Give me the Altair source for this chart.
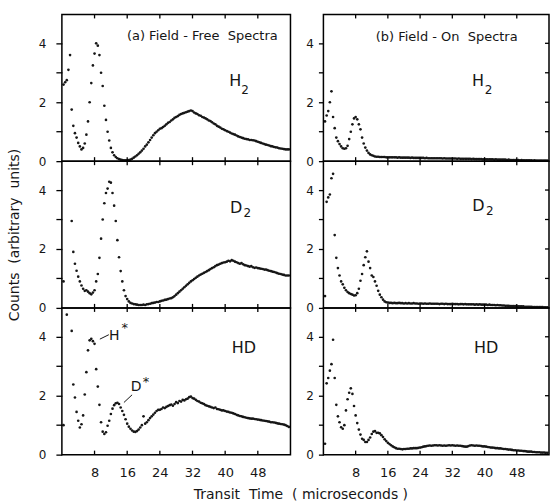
import altair as alt
import pandas as pd

# ---------------- data ----------------
CHANNEL_US = 0.4
N_CHANNELS = 139
transit_us = [round(CHANNEL_US * (i + 1), 1) for i in range(N_CHANNELS)]

# (a) field-free spectra
ff_h2 = [2.6, 2.68, 2.75, 3.1, 3.6, 1.75, 1.2, 0.95, 0.8, 0.62,
         0.5, 0.4, 0.45, 0.6, 0.9, 1.35, 2.0, 2.65, 3.25, 3.65,
         4.0, 3.92, 3.6, 3.0, 2.55, 1.88, 1.4, 1.0, 0.7, 0.45,
         0.3, 0.2, 0.14, 0.1, 0.07, 0.05, 0.04, 0.03, 0.03, 0.03,
         0.04, 0.05, 0.08, 0.12, 0.16, 0.2, 0.25, 0.3, 0.36, 0.42,
         0.5, 0.56, 0.64, 0.72, 0.8, 0.88, 0.95, 1.0, 1.05, 1.1,
         1.12, 1.16, 1.2, 1.25, 1.3, 1.33, 1.38, 1.42, 1.47, 1.5,
         1.53, 1.57, 1.6, 1.62, 1.64, 1.66, 1.68, 1.7, 1.72, 1.7,
         1.65, 1.62, 1.6, 1.56, 1.54, 1.5, 1.48, 1.45, 1.42, 1.38,
         1.36, 1.32, 1.28, 1.25, 1.2, 1.17, 1.14, 1.1, 1.08, 1.05,
         1.02, 1.0, 0.97, 0.94, 0.92, 0.9, 0.87, 0.84, 0.82, 0.8,
         0.78, 0.76, 0.75, 0.74, 0.72, 0.72, 0.71, 0.7, 0.68, 0.66,
         0.64, 0.62, 0.6, 0.58, 0.56, 0.55, 0.53, 0.51, 0.5, 0.48,
         0.47, 0.46, 0.44, 0.43, 0.42, 0.41, 0.4, 0.4, 0.4]

ff_d2 = [0.9, None, None, None, None, 2.95, 1.9, 1.5, 1.26, 1.06,
         0.9, 0.76, 0.65, 0.58, 0.6, 0.55, 0.5, 0.46, 0.52, 0.6,
         0.9, 1.15, 1.7, 2.35, 3.0, 3.55, 3.9, 4.05, 4.28, 4.25,
         3.9, 3.47, 2.95, 2.3, 1.72, 1.25, 0.9, 0.6, 0.4, 0.3,
         0.22, 0.17, 0.15, 0.13, 0.12, 0.11, 0.1, 0.1, 0.1, 0.11,
         0.1, 0.12, 0.13, 0.14, 0.16, 0.17, 0.18, 0.2, 0.2, 0.22,
         0.24, 0.25, 0.27, 0.28, 0.3, 0.32, 0.33, 0.36, 0.4, 0.45,
         0.5, 0.55, 0.6, 0.65, 0.7, 0.75, 0.8, 0.85, 0.9, 0.94,
         0.98, 1.02, 1.06, 1.1, 1.13, 1.16, 1.19, 1.22, 1.25, 1.28,
         1.32, 1.35, 1.38, 1.42, 1.45, 1.47, 1.5, 1.52, 1.54, 1.55,
         1.57, 1.6, 1.58, 1.62, 1.6, 1.57, 1.55, 1.52, 1.5, 1.52,
         1.48, 1.45, 1.44, 1.42, 1.4, 1.42, 1.38, 1.36, 1.37, 1.35,
         1.34, 1.33, 1.32, 1.3, 1.3, 1.28, 1.26, 1.25, 1.23, 1.22,
         1.2, 1.18, 1.16, 1.15, 1.13, 1.12, 1.1, 1.1, 1.1]

ff_hd = [1.0, None, 4.75, None, None, 4.2, 2.38, 1.94, 1.45, 1.15,
         0.92, 1.03, 1.33, 2.04, 2.8, 3.54, 3.88, 3.93, 3.85, 3.76,
         2.9, 2.31, 1.69, 1.1, 0.78, 0.7, 0.76, 0.98, 1.15, 1.38,
         1.56, 1.68, 1.74, 1.76, 1.72, 1.6, 1.48, 1.35, 1.2, 1.05,
         0.95, 0.88, 0.82, 0.78, 0.77, 0.8, 0.85, 0.92, 1.0, 1.3,
         1.05, 1.1, 1.17, 1.24, 1.3, 1.36, 1.42, 1.48, 1.52, 1.52,
         1.55, 1.6, 1.58, 1.62, 1.65, 1.68, 1.7, 1.66, 1.72, 1.78,
         1.75, 1.82, 1.8, 1.86, 1.84, 1.88, 1.9, 1.95, 1.97, 1.92,
         1.9, 1.86, 1.82, 1.8, 1.76, 1.74, 1.72, 1.68, 1.66, 1.64,
         1.62, 1.6, 1.58, 1.6, 1.55, 1.54, 1.52, 1.5, 1.5, 1.48,
         1.46, 1.45, 1.43, 1.42, 1.4, 1.38, 1.35, 1.33, 1.31, 1.3,
         1.28, 1.27, 1.25, 1.24, 1.23, 1.22, 1.22, 1.21, 1.2, 1.19,
         1.18, 1.17, 1.16, 1.15, 1.14, 1.13, 1.12, 1.1, 1.1, 1.09,
         1.08, 1.06, 1.05, 1.04, 1.03, 1.02, 1.0, 0.97, 0.94]

# (b) field-on spectra
fo_h2 = [1.35, 1.55, 1.7, 2.0, 2.37, 1.5, 1.12, 0.8, 0.68, 0.58,
         0.5, 0.44, 0.42, 0.44, 0.52, 0.75, 1.0, 1.25, 1.45, 1.5,
         1.42, 1.25, 1.08, 0.8, 0.6, 0.46, 0.36, 0.28, 0.23, 0.2,
         0.18, 0.16, 0.15, 0.15, 0.14, 0.14, 0.14, 0.14, 0.13, 0.13,
         0.13, 0.13, 0.13, 0.13, 0.13, 0.12, 0.13, 0.12, 0.12, 0.12,
         0.12, 0.12, 0.12, 0.11, 0.12, 0.11, 0.11, 0.11, 0.11, 0.11,
         0.11, 0.11, 0.1, 0.11, 0.1, 0.1, 0.1, 0.1, 0.1, 0.1,
         0.1, 0.1, 0.1, 0.09, 0.1, 0.09, 0.09, 0.09, 0.09, 0.09,
         0.09, 0.09, 0.08, 0.09, 0.08, 0.08, 0.08, 0.08, 0.08, 0.08,
         0.08, 0.07, 0.08, 0.07, 0.07, 0.07, 0.07, 0.07, 0.06, 0.07,
         0.06, 0.06, 0.06, 0.06, 0.06, 0.05, 0.06, 0.05, 0.05, 0.05,
         0.05, 0.05, 0.05, 0.04, 0.05, 0.04, 0.04, 0.04, 0.04, 0.04,
         0.04, 0.03, 0.04, 0.03, 0.03, 0.03, 0.03, 0.03, 0.03, 0.02,
         0.03, 0.02, 0.02, 0.02, 0.02, 0.02, 0.02, 0.02, 0.02]

fo_d2 = [0.4, 3.6, 3.75, 3.85, 4.4, 4.55, 2.47, 1.7, 1.35, 1.1,
         0.9, 0.8, 0.68, 0.6, 0.54, 0.5, 0.47, 0.45, 0.42, 0.43,
         0.5, 0.65, 0.92, 1.15, 1.45, 1.72, 1.92, 1.57, 1.35, 1.1,
         1.05, 0.9, 0.75, 0.58, 0.45, 0.36, 0.28, 0.22, 0.19, 0.18,
         0.17, 0.17, 0.16, 0.17, 0.16, 0.16, 0.17, 0.16, 0.16, 0.15,
         0.16, 0.15, 0.16, 0.15, 0.15, 0.16, 0.15, 0.15, 0.14, 0.15,
         0.15, 0.14, 0.15, 0.14, 0.14, 0.15, 0.14, 0.14, 0.14, 0.14,
         0.14, 0.13, 0.14, 0.14, 0.13, 0.14, 0.13, 0.13, 0.13, 0.14,
         0.13, 0.13, 0.13, 0.12, 0.13, 0.13, 0.12, 0.13, 0.12, 0.12,
         0.12, 0.12, 0.12, 0.11, 0.12, 0.11, 0.12, 0.11, 0.11, 0.11,
         0.11, 0.1, 0.11, 0.1, 0.1, 0.1, 0.09, 0.1, 0.09, 0.09,
         0.08, 0.08, 0.07, 0.07, 0.07, 0.06, 0.06, 0.06, 0.06, 0.05,
         0.05, 0.05, 0.05, 0.05, 0.04, 0.04, 0.04, 0.04, 0.04, 0.03,
         0.03, 0.03, 0.03, 0.03, 0.03, 0.03, 0.02, 0.02, 0.02]

fo_hd = [0.37, 2.42, 2.6, 2.85, 3.07, 3.9, 2.6, 1.69, 1.3, 1.1,
         0.93, 0.88, 1.0, 1.5, 1.88, 2.1, 2.25, 2.06, 1.65, 1.33,
         1.07, 0.85, 0.68, 0.54, 0.5, 0.43, 0.43, 0.5, 0.58, 0.7,
         0.78, 0.8, 0.74, 0.74, 0.72, 0.66, 0.6, 0.52, 0.46, 0.4,
         0.36, 0.32, 0.28, 0.25, 0.22, 0.2, 0.2, 0.19, 0.18, 0.19,
         0.19, 0.2, 0.2, 0.21, 0.21, 0.22, 0.22, 0.22, 0.23, 0.24,
         0.25, 0.27, 0.28, 0.29, 0.3, 0.31, 0.3, 0.31, 0.32, 0.32,
         0.31, 0.32, 0.31, 0.3, 0.31, 0.3, 0.31, 0.32, 0.31, 0.32,
         0.31, 0.3, 0.31, 0.3, 0.3, 0.29, 0.28, 0.27, 0.27, 0.29,
         0.31, 0.32, 0.31, 0.3, 0.31, 0.3, 0.3, 0.29, 0.28, 0.28,
         0.27, 0.26, 0.25, 0.24, 0.24, 0.23, 0.22, 0.22, 0.21, 0.21,
         0.2, 0.19, 0.19, 0.18, 0.17, 0.17, 0.16, 0.15, 0.15, 0.14,
         0.14, 0.13, 0.13, 0.12, 0.12, 0.11, 0.1, 0.1, 0.1, 0.09,
         0.09, 0.08, 0.08, 0.08, 0.07, 0.07, 0.07, 0.06, 0.06]

X_TICKS = [8, 16, 24, 32, 40, 48]
Y_TICKS = [0, 1, 2, 3, 4]
RIGHT_Y_TICKS = [1, 2, 3, 4]

NB = "\u00a0"
# panel texts: (text, x, y, font size)
texts = {
    "ff_h2": [(f"(a){NB}Field{NB}-{NB}Free{NB}{NB}Spectra", 34.4, 4.24, 13),
              ("H", 42.5, 2.73, 16), ("2", 44.9, 2.42, 12)],
    "ff_d2": [("D", 42.7, 3.39, 16), ("2", 45.4, 3.22, 12)],
    "ff_hd": [("HD", 44.6, 3.61, 16),
              ("H", 12.8, 4.03, 14), ("*", 15.4, 4.3, 13),
              ("D", 18.2, 2.28, 14), ("*", 20.6, 2.47, 13)],
    "fo_h2": [(f"(b){NB}Field{NB}-{NB}On{NB}{NB}Spectra", 30.6, 4.2, 13),
              ("H", 38.4, 2.73, 16), ("2", 41.0, 2.42, 12)],
    "fo_d2": [("D", 38.5, 3.47, 16), ("2", 41.3, 3.29, 12)],
    "fo_hd": [("HD", 40.4, 3.61, 16)],
}
# leader lines for H* and D* (x, y, x2, y2)
leaders = {"x": [9.3, 15.2], "y": [3.92, 1.77], "x2": [11.5, 17.2], "y2": [4.07, 2.03]}

# ---------------- layout ----------------
W_L, W_R, H = 229, 226, 147
XDOM = [0, 56]
YDOM = [0, 4.98]
INK = "#161616"
FONT = "DejaVu Sans"


def panel(key, yvals, width, left_col, bottom, ytitle=None, xtitle=None):
    xs = alt.Scale(domain=XDOM, nice=False, zero=False)
    ys = alt.Scale(domain=YDOM, nice=False, zero=False)
    if bottom:
        xargs = dict(values=X_TICKS, ticks=False, domain=False, grid=False,
                     labelFontSize=13, labelPadding=12, labelFlush=False)
        if xtitle:
            xargs.update(title=xtitle, titleX=239, titleY=40, titleAlign="center",
                         titleBaseline="middle", titleFontSize=14,
                         titleFontWeight="normal")
        else:
            xargs.update(title=None)
        xaxis = alt.Axis(**xargs)
    else:
        xaxis = None
    yargs = dict(values=Y_TICKS, labelExpr="datum.value % 2 == 0 ? datum.label : ''",
                 tickSize=6 if left_col else 5, labelPadding=10 if left_col else 5,
                 domain=False, grid=False, labelFontSize=12, labelOverlap=False,
                 labelFlush=False)
    if ytitle:
        yargs.update(title=ytitle, titleX=-47, titleY=H / 2, titleAngle=270,
                     titleAlign="center", titleBaseline="middle", titleFontSize=14,
                     titleFontWeight="normal")
    else:
        yargs.update(title=None)
    yaxis = alt.Axis(**yargs)

    # panel frame
    frame = alt.Chart(pd.DataFrame({"f": [0]})).mark_rect(
        fill=None, stroke="black", strokeWidth=1.5).encode(
        x=alt.value(0), x2=alt.value(width), y=alt.value(0), y2=alt.value(H))

    df = pd.DataFrame({"t": transit_us, "c": yvals}).dropna()
    pts = alt.Chart(df).mark_circle(size=7, color=INK, opacity=1, clip=True).encode(
        x=alt.X("t:Q", scale=xs, axis=xaxis),
        y=alt.Y("c:Q", scale=ys, axis=yaxis),
    )
    tdf = pd.DataFrame({"t": X_TICKS})
    bt = alt.Chart(tdf).mark_rule(color="black", strokeWidth=1.3).encode(
        x=alt.X("t:Q", scale=xs, axis=xaxis), y=alt.value(H), y2=alt.value(H - 4))
    tt = alt.Chart(tdf).mark_rule(color="black", strokeWidth=1.3).encode(
        x=alt.X("t:Q", scale=xs, axis=xaxis), y=alt.value(0), y2=alt.value(4))
    layers = [pts, bt, tt]
    if not left_col:
        rdf = pd.DataFrame({"v": RIGHT_Y_TICKS})
        rt = alt.Chart(rdf).mark_rule(color="black", strokeWidth=1.3).encode(
            y=alt.Y("v:Q", scale=ys, axis=yaxis), x=alt.value(width), x2=alt.value(width - 4))
        layers.append(rt)
    tx = texts[key]
    tdf2 = pd.DataFrame({"label": [a[0] for a in tx], "tx": [a[1] for a in tx],
                         "ty": [a[2] for a in tx], "fs": [a[3] for a in tx]})
    txt = alt.Chart(tdf2).mark_text(font=FONT, color=INK, align="center",
                                    baseline="middle").encode(
        x=alt.X("tx:Q", scale=xs, axis=xaxis), y=alt.Y("ty:Q", scale=ys, axis=yaxis),
        text="label:N", size=alt.Size("fs:Q", scale=None, legend=None))
    layers.append(txt)
    if key == "ff_hd":
        ldf = pd.DataFrame(leaders)
        ll = alt.Chart(ldf).mark_rule(color=INK, strokeWidth=1).encode(
            x=alt.X("x:Q", scale=xs, axis=xaxis), y=alt.Y("y:Q", scale=ys, axis=yaxis),
            x2="x2:Q", y2="y2:Q")
        layers.append(ll)
    layers.append(frame)
    return alt.layer(*layers).properties(width=width, height=H)


panels = [
    panel("ff_h2", ff_h2, W_L, True, False),
    panel("fo_h2", fo_h2, W_R, False, False),
    panel("ff_d2", ff_d2, W_L, True, False,
          ytitle=f"Counts{NB}{NB}(arbitrary{NB}{NB}units)"),
    panel("fo_d2", fo_d2, W_R, False, False),
    panel("ff_hd", ff_hd, W_L, True, True,
          xtitle=f"Transit{NB}{NB}Time{NB}{NB}({NB}microseconds{NB})"),
    panel("fo_hd", fo_hd, W_R, False, True),
]

chart = alt.concat(
    *panels, columns=2, spacing={"row": 0, "column": 33}, bounds="flush"
).properties(
    padding={"left": 7, "top": 13, "right": 0, "bottom": 0},
    background="white",
).configure_view(
    stroke=None
).configure_axis(
    labelFont=FONT, titleFont=FONT, labelColor=INK, titleColor=INK,
    tickColor="black", tickWidth=1.3, domainColor="black", domainWidth=1.5
)

chart.save("out.html", embed_options={"renderer": "svg", "actions": False})
